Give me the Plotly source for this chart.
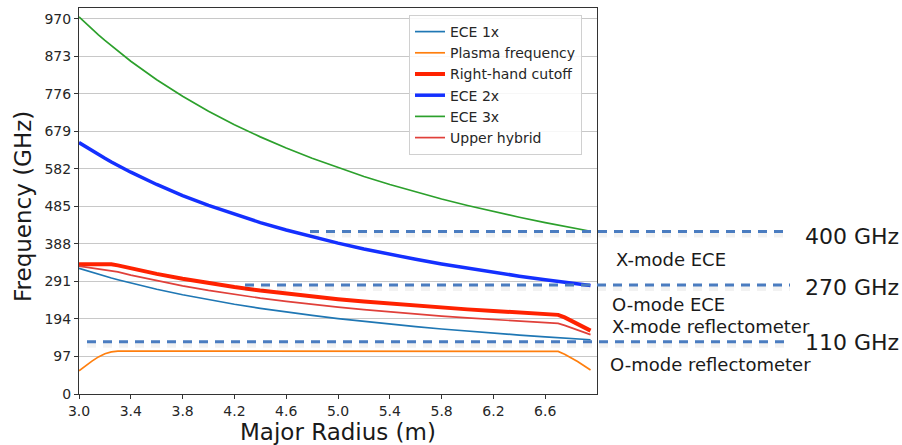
import plotly.graph_objects as go

# ---------------- data ----------------
radius = [3.0, 3.05, 3.1, 3.15, 3.2, 3.25, 3.3, 3.4, 3.6, 3.8, 4.0, 4.2, 4.4, 4.6, 4.8,
          5.0, 5.2, 5.4, 5.6, 5.8, 6.0, 6.2, 6.4, 6.6, 6.65, 6.7, 6.75, 6.8, 6.85, 6.9, 6.95]

ece_1x = [325.0, 319.7, 314.5, 309.5, 304.7, 300.0, 295.5, 286.8, 270.8, 256.6, 243.8, 232.1,
          221.6, 212.0, 203.1, 195.0, 187.5, 180.6, 174.1, 168.1, 162.5, 157.3, 152.3, 147.7,
          146.6, 145.5, 144.4, 143.4, 142.3, 141.3, 140.3]

plasma_freq = [60, 73, 85, 96, 104, 109, 111, 111, 111, 111, 111, 111, 111, 111, 111,
               111, 111, 111, 111, 111, 111, 111, 111, 111, 111, 110, 103, 94, 84, 73, 62]

rh_cutoff = [335.7, 335.6, 336.0, 336.9, 336.8, 335.4, 332.5, 324.7, 310.5, 298.0, 286.8, 276.6,
             267.6, 259.5, 252.0, 245.2, 239.0, 233.4, 228.1, 223.3, 218.8, 214.7, 210.8, 207.2,
             206.3, 204.6, 198.0, 189.9, 181.2, 172.2, 163.8]

ece_2x = [650.0, 639.3, 629.0, 619.0, 609.4, 600.0, 590.9, 573.5, 541.7, 513.2, 487.5, 464.3,
          443.2, 423.9, 406.3, 390.0, 375.0, 361.1, 348.2, 336.2, 325.0, 314.5, 304.7, 295.5,
          293.2, 291.0, 288.9, 286.8, 284.7, 282.6, 280.6]

ece_3x = [975.0, 959.0, 943.5, 928.6, 914.1, 900.0, 886.4, 860.3, 812.5, 769.7, 731.3, 696.4,
          664.8, 635.9, 609.4, 585.0, 562.5, 541.7, 522.3, 504.3, 487.5, 471.8, 457.0, 443.2,
          439.8, 436.6, 433.3, 430.1, 427.0, 423.9, 420.9]

upper_hybrid = [330.5, 327.9, 325.8, 324.0, 322.0, 319.2, 315.7, 307.5, 292.7, 279.6, 267.9, 257.3,
                247.8, 239.3, 231.5, 224.4, 217.9, 212.0, 206.5, 201.4, 196.8, 192.5, 188.5, 184.8,
                183.9, 182.4, 177.4, 171.5, 165.2, 159.0, 153.4]

y_ticks = [0, 97, 194, 291, 388, 485, 582, 679, 776, 873, 970]
x_ticks = [3.0, 3.4, 3.8, 4.2, 4.6, 5.0, 5.4, 5.8, 6.2, 6.6]

band_levels = [420, 282, 135]            # dashed line heights (GHz, data units)
band_labels = ["400 GHz", "270 GHz", "110 GHz"]
mode_labels = ["X-mode ECE", "O-mode ECE", "X-mode reflectometer", "O-mode reflectometer"]

# ---------------- figure ----------------
W, H = 902, 445
L, R, T, B = 79, 305, 8, 51
YMAX = 998

def px_x(px):
    return (px - L) / (W - L - R)

def px_y(py):
    return (H - B - py) / (H - B - T)

fig = go.Figure()
series = [
    ("ECE 1x", ece_1x, "#1f77b4", 1.7),
    ("Plasma frequency", plasma_freq, "#ff7f0e", 1.7),
    ("Right-hand cutoff", rh_cutoff, "#ff2200", 4),
    ("ECE 2x", ece_2x, "#1430ff", 3.5),
    ("ECE 3x", ece_3x, "#2ca02c", 1.7),
    ("Upper hybrid", upper_hybrid, "#e0403a", 1.7),
]
for name, vals, col, w in series:
    fig.add_trace(go.Scatter(x=radius, y=vals, mode="lines", name=name,
                             line=dict(color=col, width=w)))

# dashed band lines (start px, end px)
starts = [310, 245, 87]
shapes = []
for lvl, s in zip(band_levels, starts):
    yp = lvl / YMAX
    shapes.append(dict(type="line", xref="paper", yref="paper",
                       x0=px_x(s), x1=px_x(790), y0=yp - 3 / 386, y1=yp - 3 / 386,
                       line=dict(color="rgba(0,0,0,0.05)", width=6, dash="9px,7px"),
                       layer="above"))
    shapes.append(dict(type="line", xref="paper", yref="paper",
                       x0=px_x(s), x1=px_x(790), y0=yp, y1=yp,
                       line=dict(color="#4a7cc0", width=3, dash="9px,7px"),
                       layer="above"))

annotations = []
big_pos = [(803, 236), (803, 287), (803, 342)]
for txt, (ax_, ay_) in zip(band_labels, big_pos):
    annotations.append(dict(text=txt, xref="paper", yref="paper", x=px_x(ax_), y=px_y(ay_),
                            xanchor="left", yanchor="middle", showarrow=False,
                            font=dict(family="DejaVu Sans", size=22, color="#1a1a1a")))
small_pos = [(614, 259), (610, 304), (610, 326), (608, 364)]
for txt, (ax_, ay_) in zip(mode_labels, small_pos):
    annotations.append(dict(text=txt, xref="paper", yref="paper", x=px_x(ax_), y=px_y(ay_),
                            xanchor="left", yanchor="middle", showarrow=False,
                            font=dict(family="DejaVu Sans", size=18, color="#1a1a1a")))

# axis titles as annotations for exact placement
annotations.append(dict(text="Major Radius (m)", xref="paper", yref="paper",
                        x=px_x(338), y=px_y(432), xanchor="center", yanchor="middle",
                        showarrow=False, font=dict(family="DejaVu Sans", size=23, color="#1a1a1a")))
annotations.append(dict(text="Frequency (GHz)", xref="paper", yref="paper",
                        x=px_x(23), y=px_y(207), xanchor="center", yanchor="middle",
                        textangle=-90, showarrow=False,
                        font=dict(family="DejaVu Sans", size=23, color="#1a1a1a")))

fig.update_layout(
    width=W, height=H,
    margin=dict(l=L, r=R, t=T, b=B, autoexpand=False),
    paper_bgcolor="white", plot_bgcolor="white",
    font=dict(family="DejaVu Sans", size=14, color="#262626"),
    showlegend=True,
    legend=dict(x=px_x(409), y=px_y(15), xanchor="left", yanchor="top",
                bgcolor="rgba(255,255,255,0.85)", bordercolor="#d0d0d0", borderwidth=1,
                font=dict(family="DejaVu Sans", size=14, color="#262626"),
                tracegroupgap=0, itemwidth=30),
    shapes=shapes,
    annotations=annotations,
)
fig.update_xaxes(range=[3.0, 7.0], tickvals=x_ticks, ticktext=[f"{v:.1f}" for v in x_ticks],
                 showgrid=False, zeroline=False, showline=True, linecolor="#333", linewidth=1,
                 mirror=True, ticks="outside", ticklen=4, tickcolor="#333",
                 tickfont=dict(size=14), automargin=False)
fig.update_yaxes(range=[0, YMAX], tickvals=y_ticks, ticktext=[str(v) for v in y_ticks],
                 showgrid=True, gridcolor="#c8c8c8", gridwidth=1, zeroline=False,
                 showline=True, linecolor="#333", linewidth=1, mirror=True,
                 ticks="outside", ticklen=4, tickcolor="#333",
                 tickfont=dict(size=14), automargin=False)

fig.write_html("out.html", config={"displayModeBar": False},
               post_script="document.body.style.margin='0px';document.body.style.padding='0px';")
